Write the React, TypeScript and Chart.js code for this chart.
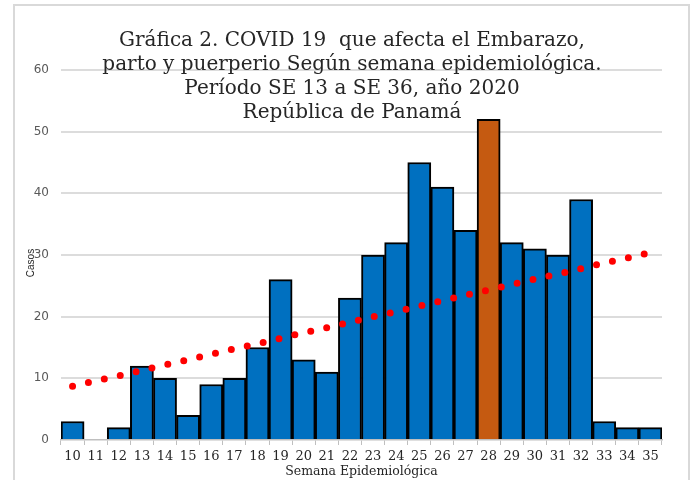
import React, { useEffect, useRef } from "react";
import { Chart, registerables } from "chart.js";

Chart.register(...registerables);

const weeks = ["10","11","12","13","14","15","16","17","18","19","20","21","22","23","24","25","26","27","28","29","30","31","32","33","34","35"];
const cases = [3, 0, 2, 12, 10, 4, 9, 10, 15, 26, 13, 11, 23, 30, 32, 45, 41, 34, 52, 32, 31, 30, 39, 3, 2, 2];
const trend = [8.7, 9.6, 10.4, 11.3, 12.2, 13.0, 13.9, 14.8, 15.6, 16.5, 17.4, 18.2, 19.1, 20.0, 20.8, 21.7, 22.6, 23.5, 24.3, 25.2, 26.1, 26.9, 27.8, 28.7, 29.5, 30.4];
const highlightWeek = "28";
const titleLines = [
  "Gráfica 2. COVID 19  que afecta el Embarazo,",
  "parto y puerperio Según semana epidemiológica.",
  "Período SE 13 a SE 36, año 2020",
  "República de Panamá",
];
const yAxisTitle = "Casos";
const xAxisTitle = "Semana Epidemiológica";

const overlayText = {
  id: "overlayText",
  afterDraw(chart: any) {
    const ctx = chart.ctx;
    ctx.save();
    ctx.fillStyle = "#262626";
    ctx.font = '20px "DejaVu Serif"';
    ctx.textAlign = "center";
    ctx.textBaseline = "alphabetic";
    titleLines.forEach((t, i) => ctx.fillText(t, 337, 40 + i * 24));
    ctx.font = '10px "Liberation Sans"';
    ctx.textBaseline = "middle";
    ctx.fillStyle = "#262626";
    ctx.translate(16, 257);
    ctx.rotate(-Math.PI / 2);
    ctx.fillText(yAxisTitle, 0, 0);
    ctx.restore();
  },
};

export default function App() {
  const ref = useRef<HTMLCanvasElement>(null);
  useEffect(() => {
    if (!ref.current) return;
    const chart = new Chart(ref.current, {
      data: {
        labels: weeks,
        datasets: [
          {
            type: "line",
            data: trend,
            borderColor: "#ff0000",
            borderWidth: 7,
            borderDash: [0, 16.3],
            borderCapStyle: "round",
            pointRadius: 0,
            tension: 0,
            fill: false,
            order: 0,
          } as any,
          {
            type: "bar",
            data: cases,
            backgroundColor: weeks.map((w) => (w === highlightWeek ? "#c55a11" : "#0070c0")),
            borderColor: "#000000",
            borderWidth: 2,
            categoryPercentage: 1,
            barPercentage: 1,
            order: 1,
          } as any,
        ],
      },
      options: {
        responsive: false,
        animation: false,
        layout: { padding: { top: 64, right: 26, left: 0, bottom: 0 } },
        plugins: { legend: { display: false }, title: { display: false }, tooltip: { enabled: false } },
        scales: {
          x: {
            offset: true,
            grid: { display: true, drawOnChartArea: false, drawTicks: true, tickLength: 5, color: "#bfbfbf", offset: true },
            border: { display: true, color: "#bfbfbf", width: 1.5 },
            ticks: { autoSkip: false, maxRotation: 0, padding: 4, color: "#262626", font: { family: "DejaVu Serif", size: 13 } },
            title: { display: true, text: xAxisTitle, color: "#262626", font: { family: "DejaVu Serif", size: 12.5 }, padding: { top: 0, bottom: 1 } },
            afterFit: (s: any) => { s.height = 40; },
          },
          y: {
            min: 0,
            max: 60,
            ticks: { stepSize: 10, padding: 12, color: "#595959", font: { family: "DejaVu Sans", size: 12 } },
            grid: { drawTicks: false, color: (c: any) => (c.tick && c.tick.value === 0 ? "rgba(0,0,0,0)" : "#dcdcdc"), lineWidth: 2 },
            border: { display: false },
            afterFit: (s: any) => { s.width = 46; },
          },
        },
      },
      plugins: [overlayText],
    });
    return () => chart.destroy();
  }, []);
  return (
    <div
      style={{
        position: "absolute",
        left: 13,
        top: 4,
        width: 677,
        height: 476,
        border: "2px solid #d9d9d9",
        borderBottom: "none",
        boxSizing: "border-box",
        background: "#fff",
      }}
    >
      <canvas ref={ref} width={673} height={474} style={{ display: "block" }} />
    </div>
  );
}
